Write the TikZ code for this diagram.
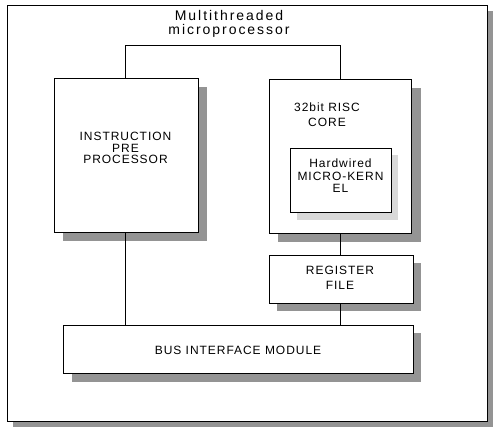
\documentclass[tikz,border=0pt]{standalone}
\usepackage{fontspec}
\setmainfont{Liberation Sans}
\newfontfamily\labfont[LetterSpace=8]{Liberation Sans}
\newfontfamily\titfont[LetterSpace=14]{Liberation Sans}
\begin{document}
\begin{tikzpicture}[x=1pt,y=-1pt,
  box/.style={draw=black,line width=0.9pt,fill=white,rectangle,inner sep=0pt},
  lab/.style={align=center,inner sep=0pt,font=\labfont\fontsize{12}{11.5}\selectfont},
  shade/.style={fill=black!42},
  faint/.style={fill=black!15},
  wire/.style={draw=black,line width=0.8pt}]
\useasboundingbox (0,0) rectangle (493,427);
% outer frame
\fill[shade] (13,11) rectangle (493,427);
\node[box,anchor=north west,minimum width=480pt,minimum height=416pt] (frame) at (7,5) {};
\node[lab,font=\titfont\fontsize{14}{14}\selectfont] (title) at (229,24) {Multithreaded\\microprocessor};
% boxes
\fill[shade] (63,87) rectangle (207,241);
\node[box,anchor=north west,minimum width=144pt,minimum height=154pt] (ipp) at (54,78) {};
\node[lab] (ipptext) at (125.5,148) {INSTRUCTION\\PRE\\PROCESSOR};
\fill[shade] (278,88) rectangle (421,242);
\node[box,anchor=north west,minimum width=142pt,minimum height=154pt] (risc) at (269,79) {};
\node[lab,font=\labfont\fontsize{12}{15}\selectfont] (risctext) at (327,115) {32bit RISC\\CORE};
\fill[faint] (297,155) rectangle (398,220);
\node[box,anchor=north west,minimum width=101pt,minimum height=64pt] (mk) at (290,148) {};
\node[lab,font=\labfont\fontsize{12}{12.5}\selectfont] (mktext) at (340.5,176) {Hardwired\\MICRO-KERN\\EL};
\fill[shade] (277,263) rectangle (421,311);
\node[box,anchor=north west,minimum width=144pt,minimum height=48pt] (reg) at (269,255) {};
\node[lab,font=\labfont\fontsize{12}{14.5}\selectfont] (regtext) at (340,278) {REGISTER\\FILE};
\fill[shade] (72,333) rectangle (421,382);
\node[box,anchor=north west,minimum width=350pt,minimum height=48pt] (bus) at (63,325) {};
\node[lab] (bustext) at (238,350) {BUS INTERFACE MODULE};
% connectors
\coordinate (tl) at (125,45);
\coordinate (tr) at (340,45);
\draw[wire] (ipp.north -| tl) -- (tl) -- (tr) -- (risc.north -| tr);
\draw[wire] (ipp.south -| tl) -- (bus.north -| tl);
\draw[wire] (risc.south -| tr) -- (reg.north -| tr);
\draw[wire] (reg.south -| tr) -- (bus.north -| tr);
\end{tikzpicture}
\end{document}
